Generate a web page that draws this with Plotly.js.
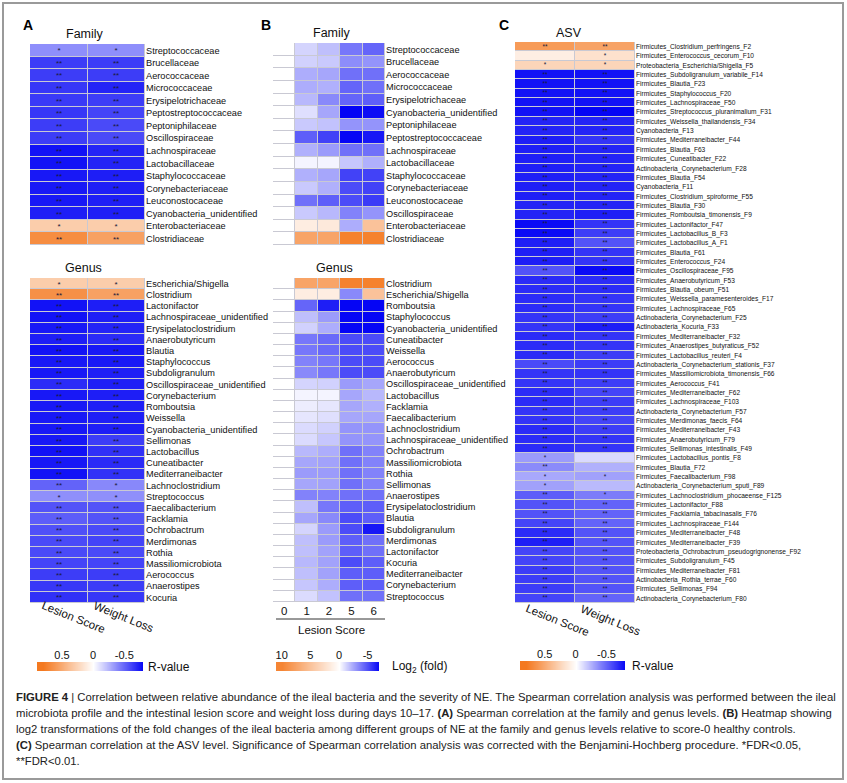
<!DOCTYPE html>
<html><head><meta charset="utf-8">
<script src="https://cdn.plot.ly/plotly-3.0.1.min.js"></script>
<style>html,body{margin:0;padding:0;background:#fff}#chart{width:847px;height:783px}</style>
</head><body><div id="chart"></div><script>
// ---------- Panel A : Spearman R (family) ----------
const famA = ['Streptococcaceae','Brucellaceae','Aerococcaceae','Micrococcaceae','Erysipelotrichaceae','Peptostreptococcaceae','Peptoniphilaceae','Oscillospiraceae','Lachnospiraceae','Lactobacillaceae','Staphylococcaceae','Corynebacteriaceae','Leuconostocaceae','Cyanobacteria_unidentified','Enterobacteriaceae','Clostridiaceae'];
const famA_LS = [-0.36,-0.62,-0.62,-0.64,-0.63,-0.64,-0.62,-0.62,-0.76,-0.76,-0.74,-0.74,-0.74,-0.72,0.3,0.68];
const famA_WL = [-0.36,-0.62,-0.62,-0.70,-0.62,-0.60,-0.58,-0.58,-0.70,-0.70,-0.72,-0.72,-0.72,-0.72,0.3,0.56];
const famA_sigLS = ['*','**','**','**','**','**','**','**','**','**','**','**','**','**','*','**'];
const famA_sigWL = ['*','**','**','**','**','**','**','**','**','**','**','**','**','**','*','**'];
// ---------- Panel A : Spearman R (genus) ----------
const genA = ['Escherichia/Shigella','Clostridium','Lactonifactor','Lachnospiraceae_unidentified','Erysipelatoclostridium','Anaerobutyricum','Blautia','Staphylococcus','Subdoligranulum','Oscillospiraceae_unidentified','Corynebacterium','Romboutsia','Weissella','Cyanobacteria_unidentified','Sellimonas','Lactobacillus','Cuneatibacter','Mediterraneibacter','Lachnoclostridium','Streptococcus','Faecalibacterium','Facklamia','Ochrobactrum','Merdimonas','Rothia','Massiliomicrobiota','Aerococcus','Anaerostipes','Kocuria'];
const genA_LS = [0.3,0.66,-0.76,-0.76,-0.74,-0.72,-0.76,-0.74,-0.74,-0.68,-0.74,-0.74,-0.74,-0.74,-0.74,-0.76,-0.74,-0.76,-0.50,-0.36,-0.55,-0.52,-0.56,-0.58,-0.58,-0.60,-0.62,-0.64,-0.66];
const genA_WL = [0.3,0.56,-0.72,-0.72,-0.70,-0.68,-0.74,-0.74,-0.72,-0.72,-0.72,-0.72,-0.72,-0.72,-0.62,-0.66,-0.68,-0.66,-0.38,-0.36,-0.55,-0.55,-0.58,-0.60,-0.58,-0.60,-0.62,-0.62,-0.64];
const genA_sigLS = ['*','**','**','**','**','**','**','**','**','**','**','**','**','**','**','**','**','**','**','*','**','**','**','**','**','**','**','**','**'];
const genA_sigWL = ['*','**','**','**','**','**','**','**','**','**','**','**','**','**','**','**','**','**','*','*','**','**','**','**','**','**','**','**','**'];
const corrCols = ['Lesion Score','Weight Loss'];

// ---------- Panel B : log2 fold change vs score 0 ----------
const scoreCols = ['0','1','2','5','6'];
const famB = ['Streptococcaceae','Brucellaceae','Aerococcaceae','Micrococcaceae','Erysipelotrichaceae','Cyanobacteria_unidentified','Peptoniphilaceae','Peptostreptococcaceae','Lachnospiraceae','Lactobacillaceae','Staphylococcaceae','Corynebacteriaceae','Leuconostocaceae','Oscillospiraceae','Enterobacteriaceae','Clostridiaceae'];
const famB_s0 = [0,0,0,0,0,0,0,0,0,0,0,0,0,0,0,0];
const famB_s1 = [-1.2,-1.3,-2.3,-2.3,-2.0,-0.9,-1.5,-4.5,-2.2,-0.3,-2.2,-1.5,-4.0,-1.5,1.5,7.5];
const famB_s2 = [-1.8,-1.5,-2.5,-2.2,-3.3,-2.5,-1.7,-5.3,-2.8,-0.3,-2.5,-2.2,-4.5,-2.0,1.8,7.5];
const famB_s5 = [-3.8,-3.2,-4.0,-4.3,-4.3,-7.0,-3.0,-7.0,-4.0,-1.6,-5.3,-5.0,-5.0,-3.5,-2.3,10.3];
const famB_s6 = [-4.3,-3.0,-4.0,-4.0,-4.5,-6.8,-3.0,-6.5,-4.0,-2.2,-5.3,-5.3,-5.5,-3.0,5.0,10.3];
const genB = ['Clostridium','Escherichia/Shigella','Romboutsia','Staphylococcus','Cyanobacteria_unidentified','Cuneatibacter','Weissella','Aerococcus','Anaerobutyricum','Oscillospiraceae_unidentified','Lactobacillus','Facklamia','Faecalibacterium','Lachnoclostridium','Lachnospiraceae_unidentified','Ochrobactrum','Massiliomicrobiota','Rothia','Sellimonas','Anaerostipes','Erysipelatoclostridium','Blautia','Subdoligranulum','Merdimonas','Lactonifactor','Kocuria','Mediterraneibacter','Corynebacterium','Streptococcus'];
const genB_s0 = [0,0,0,0,0,0,0,0,0,0,0,0,0,0,0,0,0,0,0,0,0,0,0,0,0,0,0,0,0];
const genB_s1 = [7.5,1.5,-4.3,-1.8,-1.3,-3.8,-3.8,-3.5,-3.3,-1.2,-0.3,-0.5,-0.7,-1.0,-1.0,-2.0,-2.5,-2.8,-2.5,-3.5,-1.8,-2.5,-1.2,-1.8,-1.8,-2.0,-1.8,-1.6,-1.0];
const genB_s2 = [7.5,1.5,-6.3,-2.8,-2.3,-4.2,-4.2,-3.8,-3.8,-1.3,-0.3,-0.7,-0.9,-1.3,-1.6,-2.3,-2.6,-2.8,-2.6,-3.5,-3.8,-3.3,-2.8,-2.8,-2.6,-2.6,-2.6,-2.3,-1.7];
const genB_s5 = [10.3,-3.3,-7.0,-7.0,-7.0,-5.0,-5.0,-5.0,-5.0,-2.8,-2.5,-2.5,-2.5,-3.0,-3.0,-4.0,-4.0,-4.0,-4.0,-4.0,-4.5,-5.0,-5.0,-4.5,-4.5,-5.0,-4.5,-4.5,-4.0];
const genB_s6 = [10.3,5.0,-7.0,-7.0,-7.0,-5.0,-5.0,-5.0,-5.0,-2.5,-2.0,-2.2,-2.5,-3.0,-3.0,-3.5,-3.5,-3.5,-3.5,-4.0,-4.5,-4.5,-6.5,-4.0,-4.0,-4.5,-4.5,-4.5,-4.0];

// ---------- Panel C : Spearman R (ASV) ----------
const asvC = ['Firmicutes_Clostridium_perfringens_F2','Firmicutes_Enterococcus_cecorum_F10','Proteobacteria_Escherichia/Shigella_F5','Firmicutes_Subdoligranulum_variabile_F14','Firmicutes_Blautia_F23','Firmicutes_Staphylococcus_F20','Firmicutes_Lachnospiraceae_F50','Firmicutes_Streptococcus_pluranimalium_F31','Firmicutes_Weissella_thailandensis_F34','Cyanobacteria_F13','Firmicutes_Mediterraneibacter_F44','Firmicutes_Blautia_F63','Firmicutes_Cuneatibacter_F22','Actinobacteria_Corynebacterium_F28','Firmicutes_Blautia_F54','Cyanobacteria_F11','Firmicutes_Clostridium_spiroforme_F55','Firmicutes_Blautia_F30','Firmicutes_Romboutsia_timonensis_F9','Firmicutes_Lactonifactor_F47','Firmicutes_Lactobacillus_B_F3','Firmicutes_Lactobacillus_A_F1','Firmicutes_Blautia_F61','Firmicutes_Enterococcus_F24','Firmicutes_Oscillospiraceae_F95','Firmicutes_Anaerobutyricum_F53','Firmicutes_Blautia_obeum_F51','Firmicutes_Weissella_paramesenteroides_F17','Firmicutes_Lachnospiraceae_F65','Actinobacteria_Corynebacterium_F25','Actinobacteria_Kocuria_F33','Firmicutes_Mediterraneibacter_F32','Firmicutes_Anaerostipes_butyraticus_F52','Firmicutes_Lactobacillus_reuteri_F4','Actinobacteria_Corynebacterium_stationis_F37','Firmicutes_Massiliomicrobiota_timonensis_F66','Firmicutes_Aerococcus_F41','Firmicutes_Mediterraneibacter_F62','Firmicutes_Lachnospiraceae_F103','Actinobacteria_Corynebacterium_F57','Firmicutes_Merdimonas_faecis_F64','Firmicutes_Mediterraneibacter_F43','Firmicutes_Anaerobutyricum_F79','Firmicutes_Sellimonas_intestinalis_F49','Firmicutes_Lactobacillus_pontis_F8','Firmicutes_Blautia_F72','Firmicutes_Faecalibacterium_F98','Actinobacteria_Corynebacterium_sputi_F89','Firmicutes_Lachnoclostridium_phocaeense_F125','Firmicutes_Lactonifactor_F88','Firmicutes_Facklamia_tabacinasalis_F76','Firmicutes_Lachnospiraceae_F144','Firmicutes_Mediterraneibacter_F48','Firmicutes_Mediterraneibacter_F39','Proteobacteria_Ochrobactrum_pseudogrignonense_F92','Firmicutes_Subdoligranulum_F45','Firmicutes_Mediterraneibacter_F81','Actinobacteria_Rothia_terrae_F60','Firmicutes_Sellimonas_F94','Actinobacteria_Corynebacterium_F80'];
const asvC_LS = [0.60,0.10,0.25,-0.76,-0.76,-0.76,-0.76,-0.76,-0.70,-0.70,-0.72,-0.72,-0.72,-0.72,-0.72,-0.72,-0.72,-0.70,-0.70,-0.78,-0.78,-0.72,-0.72,-0.72,-0.55,-0.68,-0.68,-0.68,-0.68,-0.65,-0.65,-0.68,-0.68,-0.68,-0.58,-0.65,-0.65,-0.68,-0.68,-0.65,-0.65,-0.68,-0.68,-0.68,-0.32,-0.37,-0.28,-0.30,-0.52,-0.55,-0.55,-0.60,-0.68,-0.72,-0.60,-0.60,-0.62,-0.62,-0.62,-0.60];
const asvC_WL = [0.55,0.18,0.25,-0.76,-0.76,-0.76,-0.76,-0.80,-0.70,-0.70,-0.65,-0.70,-0.70,-0.70,-0.70,-0.70,-0.70,-0.70,-0.72,-0.65,-0.62,-0.55,-0.65,-0.65,-0.78,-0.68,-0.68,-0.65,-0.65,-0.62,-0.72,-0.65,-0.65,-0.62,-0.62,-0.65,-0.62,-0.60,-0.62,-0.62,-0.60,-0.62,-0.65,-0.65,-0.12,-0.25,-0.30,-0.22,-0.42,-0.50,-0.50,-0.50,-0.55,-0.55,-0.55,-0.55,-0.55,-0.55,-0.55,-0.50];
const asvC_sigLS = ['**','','*','**','**','**','**','**','**','**','**','**','**','**','**','**','**','**','**','**','**','**','**','**','**','**','**','**','**','**','**','**','**','**','**','**','**','**','**','**','**','**','**','**','*','**','*','*','**','**','**','**','**','**','**','**','**','**','**','**'];
const asvC_sigWL = ['**','*','*','**','**','**','**','**','**','**','**','**','**','**','**','**','**','**','**','**','**','**','**','**','**','**','**','**','**','**','**','**','**','**','**','**','**','**','**','**','**','**','**','**','','','*','','*','**','**','**','**','**','**','**','**','**','**','**'];

// ---------- colour legends (scale stops) ----------
const rLegend = [0.8,0.6,0.4,0.2,0,-0.2,-0.4,-0.6,-0.8];
const rTicks = [0.5,0,-0.5];
const logLegend = [10,7.5,5,2.5,0,-2.5,-5,-7];
const logTicks = [10,5,0,-5];

// ---------- helpers ----------
const W = 847, H = 783;
const dx = (a,b)=>[a/W,b/W];
const dy = (top,bot)=>[1-bot/H,1-top/H];
const BLUE = 'rgb(5,5,245)', ORANGE = 'rgb(244,121,32)';
const rScale = [[0,BLUE],[0.5,'#ffffff'],[1,ORANGE]];
const logScale = [[0,BLUE],[7/18,'#ffffff'],[1,ORANGE]];
const FONT = 'Liberation Sans, Arial, Helvetica, sans-serif';
const cols2 = (a,b)=>a.map((v,i)=>[v,b[i]]);
const cols5 = (a,b,c,d,e)=>a.map((v,i)=>[v,b[i],c[i],d[i],e[i]]);

function corrHeat(names, ls, wl, sls, swl, xa, ya, starSize){
  return {type:'heatmap', x:corrCols, y:names, z:cols2(ls,wl), text:cols2(sls,swl),
    texttemplate:'%{text}', textfont:{size:starSize,color:'#1b1b3c',family:FONT},
    zmin:-0.8, zmax:0.8, colorscale:rScale, showscale:false, xgap:1, ygap:1,
    xaxis:xa, yaxis:ya, hoverinfo:'skip'};
}
function foldHeat(names, c0,c1,c2,c5,c6, xa, ya){
  return {type:'heatmap', x:scoreCols, y:names, z:cols5(c0,c1,c2,c5,c6),
    zmin:-7, zmax:11, colorscale:logScale, showscale:false, xgap:1, ygap:1,
    xaxis:xa, yaxis:ya, hoverinfo:'skip'};
}
function legendBar(stops, scale, zmin, zmax, xa, ya){
  return {type:'heatmap', x:stops, y:[0,1], z:[stops,stops], zsmooth:'best',
    zmin:zmin, zmax:zmax, colorscale:scale, showscale:false, xaxis:xa, yaxis:ya, hoverinfo:'skip'};
}

const traces = [
  corrHeat(famA, famA_LS, famA_WL, famA_sigLS, famA_sigWL, 'x', 'y', 8),
  corrHeat(genA, genA_LS, genA_WL, genA_sigLS, genA_sigWL, 'x2', 'y2', 8),
  foldHeat(famB, famB_s0, famB_s1, famB_s2, famB_s5, famB_s6, 'x3', 'y3'),
  foldHeat(genB, genB_s0, genB_s1, genB_s2, genB_s5, genB_s6, 'x4', 'y4'),
  corrHeat(asvC, asvC_LS, asvC_WL, asvC_sigLS, asvC_sigWL, 'x5', 'y5', 6.5),
  legendBar(rLegend, rScale, -0.8, 0.8, 'x6', 'y6'),
  legendBar(logLegend, logScale, -7, 11, 'x7', 'y7'),
  legendBar(rLegend, rScale, -0.8, 0.8, 'x8', 'y8')
];

const catX = (dom, anchor, extra)=>Object.assign({domain:dom, anchor:anchor, type:'category', showgrid:false, zeroline:false,
  showticklabels:false, ticks:'', showline:false, fixedrange:true}, extra||{});
const catY = (dom, anchor, size)=>({domain:dom, anchor:anchor, type:'category', autorange:'reversed', side:'right',
  showgrid:false, zeroline:false, ticks:'', ticklen:0, tickfont:{size:size, color:'#111', family:FONT}, fixedrange:true});
const legX = (dom, anchor, range, tv)=>({domain:dom, anchor:anchor, range:range, autorange:false, side:'top', showgrid:false,
  zeroline:false, ticks:'', tickmode:'array', tickvals:tv, ticktext:tv.map(String), tickfont:{size:11,color:'#111',family:FONT}, fixedrange:true});
const legY = (dom, anchor)=>({domain:dom, anchor:anchor, range:[-0.5,1.5], autorange:false, showticklabels:false,
  showgrid:false, zeroline:false, ticks:'', fixedrange:true});

const ann = (text, x, y, opts)=>Object.assign({text:text, x:x/W, y:1-y/H, xref:'paper', yref:'paper', showarrow:false,
  xanchor:'center', yanchor:'middle', font:{size:12, color:'#111', family:FONT}}, opts||{});

const capFont = {size:11.3, color:'#222', family:'Liberation Sans Narrow, Arial Narrow, Liberation Sans, sans-serif'};
const capLines = [
  '<b>FIGURE 4</b> | Correlation between relative abundance of the ileal bacteria and the severity of NE. The Spearman correlation analysis was performed between the ileal',
  'microbiota profile and the intestinal lesion score and weight loss during days 10–17. <b>(A)</b> Spearman correlation at the family and genus levels. <b>(B)</b> Heatmap showing',
  'log2 transformations of the fold changes of the ileal bacteria among different groups of NE at the family and genus levels relative to score-0 healthy controls.',
  '<b>(C)</b> Spearman correlation at the ASV level. Significance of Spearman correlation analysis was corrected with the Benjamini-Hochberg procedure. *FDR<0.05,',
  '**FDR<0.01.'
];
const capY = [697,713,729,745,761];

const annotations = [
  ann('<b>A</b>', 28, 25, {font:{size:14,color:'#000',family:FONT}}),
  ann('<b>B</b>', 266, 25, {font:{size:14,color:'#000',family:FONT}}),
  ann('<b>C</b>', 504, 25, {font:{size:14,color:'#000',family:FONT}}),
  ann('Family', 85, 34, {font:{size:12.5,color:'#111',family:FONT}}),
  ann('Genus', 83, 268, {font:{size:12.5,color:'#111',family:FONT}}),
  ann('Family', 332, 33, {font:{size:12.5,color:'#111',family:FONT}}),
  ann('Genus', 334, 268, {font:{size:12.5,color:'#111',family:FONT}}),
  ann('ASV', 569, 33, {font:{size:12.5,color:'#111',family:FONT}}),
  ann('Lesion Score', 73, 617, {textangle:22, font:{size:11.5,color:'#111',family:FONT}}),
  ann('Weight Loss', 124, 617, {textangle:22, font:{size:11.5,color:'#111',family:FONT}}),
  ann('Lesion Score', 557, 620, {textangle:22, font:{size:11.5,color:'#111',family:FONT}}),
  ann('Weight Loss', 610, 620, {textangle:22, font:{size:11.5,color:'#111',family:FONT}}),
  ann('Lesion Score', 331, 630, {font:{size:11.5,color:'#111',family:FONT}}),
  ann('R-value', 146, 667, {xanchor:'left', font:{size:12,color:'#111',family:FONT}}),
  ann('R-value', 630, 666, {xanchor:'left', font:{size:12,color:'#111',family:FONT}}),
  ann('Log<sub>2</sub> (fold)', 390, 667, {xanchor:'left', font:{size:12,color:'#111',family:FONT}})
];
capLines.forEach((t,i)=>annotations.push(ann(t, 14, capY[i], {xanchor:'left', align:'left', font:capFont})));

const layout = {
  width:W, height:H, margin:{l:0,r:0,t:0,b:0}, paper_bgcolor:'#ffffff', plot_bgcolor:'#c9c9d3',
  showlegend:false, hovermode:false, font:{family:FONT},
  xaxis:  catX(dx(30,145),'y'),
  yaxis:  catY(dy(44,245),'x',9.2),
  xaxis2: catX(dx(30,145),'y2'),
  yaxis2: catY(dy(278,603),'x2',9.2),
  xaxis3: catX(dx(273,385),'y3'),
  yaxis3: catY(dy(43,245),'x3',9.2),
  xaxis4: catX(dx(273,385),'y4',{showticklabels:true, tickfont:{size:11.5,color:'#111',family:FONT}}),
  yaxis4: catY(dy(278,602),'x4',9.2),
  xaxis5: catX(dx(515,635),'y5'),
  yaxis5: catY(dy(42,603),'x5',6.6),
  xaxis6: legX(dx(37,143),'y6',[0.9,-0.8],rTicks),
  yaxis6: legY(dy(662,671),'x6'),
  xaxis7: legX(dx(276,379),'y7',[11,-7],logTicks),
  yaxis7: legY(dy(662,671),'x7'),
  xaxis8: legX(dx(520,625),'y8',[0.9,-0.8],rTicks),
  yaxis8: legY(dy(661,670),'x8'),
  annotations: annotations,
  shapes: [
    {type:'rect', xref:'paper', yref:'paper', x0:3/W, x1:843/W, y0:1-779/H, y1:1-3/H, line:{color:'#9a9a9a', width:2}, fillcolor:'rgba(0,0,0,0)'},
    {type:'line', xref:'paper', yref:'paper', x0:276/W, x1:385/W, y0:1-619/H, y1:1-619/H, line:{color:'#333', width:1}}
  ]
};

Plotly.newPlot('chart', traces, layout, {staticPlot:true, displayModeBar:false});
</script></body></html>
